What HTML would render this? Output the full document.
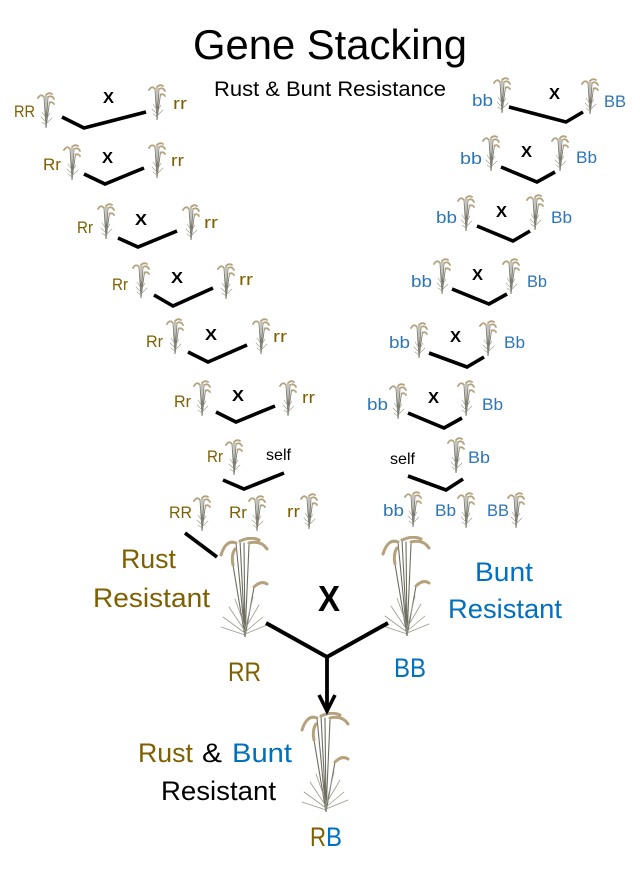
<!DOCTYPE html>
<html><head><meta charset="utf-8"><style>
html,body{margin:0;padding:0;background:#fff;}
svg{display:block;}
text{font-family:"Liberation Sans",sans-serif;}
.o{fill:#7F6000;font-size:17px;}
.b{fill:#2E75B6;font-size:17px;}
.x{fill:#000;font-size:16px;font-weight:bold;}
.ln{fill:none;stroke:#000;stroke-width:3.6;stroke-linejoin:miter;}
</style></head><body>
<svg width="640" height="875" viewBox="0 0 640 875" xmlns="http://www.w3.org/2000/svg" xmlns:xlink="http://www.w3.org/1999/xlink">
<defs>
<symbol id="sp" viewBox="0 0 18 36">
<g fill="none" stroke-linecap="round">
<path d="M9,36 L7,5 M9,36 L9,3 M9,36 L11,5 M9,36 L12.5,10" stroke="#7a7a6e" stroke-width="0.9"/>
<path d="M7,5 Q4,1 1,6 M9,3 Q12,0 15,2 M11,5 Q15,3 17,7 M12.5,11 Q15,9 17,12" stroke="#b3a37f" stroke-width="1.8"/>
<path d="M9,30 L4,25 M9,32 L15,26 M9,28 L13,21 M9,33 L5,30 M9,26 L5,20" stroke="#9a9a90" stroke-width="0.6"/>
</g>
</symbol>
<symbol id="bp" viewBox="0 0 50 100">
<g fill="none" stroke-linecap="round">
<path d="M26,100 L17,6 M26,100 L21,4 M26,100 L25,6 M26,100 L30,8 M26,100 L35,50 M26,100 L14,28" stroke="#6e6e60" stroke-width="1.1"/>
<path d="M17,6 Q7,2 2,18 M21,4 Q32,-1 40,3 M30,6 Q42,3 48,12 M35,50 Q42,43 48,47 M14,28 Q12,18 16,12" stroke="#b5a27c" stroke-width="3"/>
<path d="M26,96 L4,80 M26,94 L10,70 M26,95 L44,80 M26,97 L48,88 M26,98 L2,90 M26,92 L40,68 M26,90 L16,62 M26,93 L34,60" stroke="#9a9a8e" stroke-width="0.8"/>
</g>
</symbol>
</defs>

<!-- Title -->
<text x="193" y="59" font-size="42" fill="#000" textLength="274" lengthAdjust="spacingAndGlyphs">Gene Stacking</text>
<text x="214" y="96" font-size="21" fill="#000" textLength="232" lengthAdjust="spacingAndGlyphs">Rust &amp; Bunt Resistance</text>

<!-- small plants left -->
<use xlink:href="#sp" x="37" y="92" width="18" height="36"/>
<use xlink:href="#sp" x="148" y="84" width="18" height="36"/>
<use xlink:href="#sp" x="63" y="144" width="18" height="36"/>
<use xlink:href="#sp" x="148" y="142" width="18" height="36"/>
<use xlink:href="#sp" x="97" y="203" width="18" height="36"/>
<use xlink:href="#sp" x="182" y="204" width="18" height="36"/>
<use xlink:href="#sp" x="132" y="262" width="18" height="36"/>
<use xlink:href="#sp" x="217" y="263" width="18" height="36"/>
<use xlink:href="#sp" x="166" y="318" width="18" height="36"/>
<use xlink:href="#sp" x="252" y="318" width="18" height="36"/>
<use xlink:href="#sp" x="193" y="380" width="18" height="36"/>
<use xlink:href="#sp" x="279" y="380" width="18" height="36"/>
<use xlink:href="#sp" x="225" y="439" width="18" height="36"/>
<use xlink:href="#sp" x="193" y="495" width="18" height="36"/>
<use xlink:href="#sp" x="248" y="495" width="18" height="36"/>
<use xlink:href="#sp" x="300" y="493" width="18" height="36"/>

<!-- small plants right -->
<use xlink:href="#sp" x="493" y="77" width="18" height="36"/>
<use xlink:href="#sp" x="581" y="78" width="18" height="36"/>
<use xlink:href="#sp" x="482" y="135" width="18" height="36"/>
<use xlink:href="#sp" x="551" y="135" width="18" height="36"/>
<use xlink:href="#sp" x="457" y="195" width="18" height="36"/>
<use xlink:href="#sp" x="526" y="194" width="18" height="36"/>
<use xlink:href="#sp" x="433" y="258" width="18" height="36"/>
<use xlink:href="#sp" x="502" y="258" width="18" height="36"/>
<use xlink:href="#sp" x="410" y="322" width="18" height="36"/>
<use xlink:href="#sp" x="479" y="320" width="18" height="36"/>
<use xlink:href="#sp" x="389" y="383" width="18" height="36"/>
<use xlink:href="#sp" x="457" y="380" width="18" height="36"/>
<use xlink:href="#sp" x="447" y="437" width="18" height="36"/>
<use xlink:href="#sp" x="404" y="491" width="18" height="36"/>
<use xlink:href="#sp" x="457" y="492" width="18" height="36"/>
<use xlink:href="#sp" x="507" y="492" width="18" height="36"/>

<!-- big plants -->
<use xlink:href="#bp" x="219" y="537" width="50" height="100"/>
<use xlink:href="#bp" x="381" y="536" width="50" height="100"/>
<use xlink:href="#bp" x="300" y="712" width="50" height="100"/>

<!-- left labels -->
<text class="o" x="14" y="117" textLength="21" lengthAdjust="spacingAndGlyphs">RR</text>
<text class="o" x="173" y="109" textLength="14" lengthAdjust="spacingAndGlyphs">rr</text>
<text class="o" x="43" y="170" textLength="18" lengthAdjust="spacingAndGlyphs">Rr</text>
<text class="o" x="171" y="166" textLength="13" lengthAdjust="spacingAndGlyphs">rr</text>
<text class="o" x="77" y="233" textLength="16" lengthAdjust="spacingAndGlyphs">Rr</text>
<text class="o" x="204" y="228" textLength="14" lengthAdjust="spacingAndGlyphs">rr</text>
<text class="o" x="112" y="290" textLength="16" lengthAdjust="spacingAndGlyphs">Rr</text>
<text class="o" x="239" y="285" textLength="14" lengthAdjust="spacingAndGlyphs">rr</text>
<text class="o" x="146" y="347" textLength="17" lengthAdjust="spacingAndGlyphs">Rr</text>
<text class="o" x="273" y="342" textLength="14" lengthAdjust="spacingAndGlyphs">rr</text>
<text class="o" x="174" y="407" textLength="17" lengthAdjust="spacingAndGlyphs">Rr</text>
<text class="o" x="302" y="403" textLength="13" lengthAdjust="spacingAndGlyphs">rr</text>
<text class="o" x="207" y="462" textLength="16" lengthAdjust="spacingAndGlyphs">Rr</text>
<text class="o" x="169" y="518" textLength="23" lengthAdjust="spacingAndGlyphs">RR</text>
<text class="o" x="229" y="518" textLength="18" lengthAdjust="spacingAndGlyphs">Rr</text>
<text class="o" x="287" y="517" textLength="13" lengthAdjust="spacingAndGlyphs">rr</text>

<!-- right labels -->
<text class="b" x="472" y="106" textLength="21" lengthAdjust="spacingAndGlyphs">bb</text>
<text class="b" x="604" y="107" textLength="22" lengthAdjust="spacingAndGlyphs">BB</text>
<text class="b" x="460" y="164" textLength="22" lengthAdjust="spacingAndGlyphs">bb</text>
<text class="b" x="576" y="163" textLength="21" lengthAdjust="spacingAndGlyphs">Bb</text>
<text class="b" x="436" y="223" textLength="21" lengthAdjust="spacingAndGlyphs">bb</text>
<text class="b" x="551" y="223" textLength="21" lengthAdjust="spacingAndGlyphs">Bb</text>
<text class="b" x="411" y="287" textLength="21" lengthAdjust="spacingAndGlyphs">bb</text>
<text class="b" x="527" y="287" textLength="20" lengthAdjust="spacingAndGlyphs">Bb</text>
<text class="b" x="389" y="348" textLength="21" lengthAdjust="spacingAndGlyphs">bb</text>
<text class="b" x="504" y="348" textLength="21" lengthAdjust="spacingAndGlyphs">Bb</text>
<text class="b" x="367" y="410" textLength="21" lengthAdjust="spacingAndGlyphs">bb</text>
<text class="b" x="482" y="410" textLength="21" lengthAdjust="spacingAndGlyphs">Bb</text>
<text class="b" x="468" y="463" textLength="22" lengthAdjust="spacingAndGlyphs">Bb</text>
<text class="b" x="383" y="516" textLength="21" lengthAdjust="spacingAndGlyphs">bb</text>
<text class="b" x="435" y="516" textLength="21" lengthAdjust="spacingAndGlyphs">Bb</text>
<text class="b" x="487" y="516" textLength="22" lengthAdjust="spacingAndGlyphs">BB</text>

<!-- X marks -->
<text class="x" x="103" y="103" textLength="11" lengthAdjust="spacingAndGlyphs">X</text>
<text class="x" x="102" y="163" textLength="11" lengthAdjust="spacingAndGlyphs">X</text>
<text class="x" x="135" y="225" textLength="12" lengthAdjust="spacingAndGlyphs">X</text>
<text class="x" x="171" y="283" textLength="12" lengthAdjust="spacingAndGlyphs">X</text>
<text class="x" x="205" y="340" textLength="12" lengthAdjust="spacingAndGlyphs">X</text>
<text class="x" x="232" y="401" textLength="12" lengthAdjust="spacingAndGlyphs">X</text>
<text class="x" x="549" y="99" textLength="11" lengthAdjust="spacingAndGlyphs">X</text>
<text class="x" x="521" y="157" textLength="11" lengthAdjust="spacingAndGlyphs">X</text>
<text class="x" x="496" y="217" textLength="11" lengthAdjust="spacingAndGlyphs">X</text>
<text class="x" x="472" y="280" textLength="11" lengthAdjust="spacingAndGlyphs">X</text>
<text class="x" x="450" y="342" textLength="11" lengthAdjust="spacingAndGlyphs">X</text>
<text class="x" x="428" y="403" textLength="11" lengthAdjust="spacingAndGlyphs">X</text>

<text x="266" y="460" font-size="16" fill="#000" textLength="25" lengthAdjust="spacingAndGlyphs">self</text>
<text x="390" y="464" font-size="16" fill="#000" textLength="25" lengthAdjust="spacingAndGlyphs">self</text>

<!-- connectors -->
<polyline class="ln" points="62,117 84,128 146,112"/>
<polyline class="ln" points="84,174 105,184 144,168"/>
<polyline class="ln" points="118,238 138,247 177,231"/>
<polyline class="ln" points="154,295 173,306 213,288"/>
<polyline class="ln" points="188,352 208,362 247,345"/>
<polyline class="ln" points="216,412 236,422 275,406"/>
<polyline class="ln" points="223,480 244,489 284,473"/>
<line class="ln" x1="185" y1="533" x2="217" y2="557"/>

<polyline class="ln" points="509,107 566,122 583,112"/>
<polyline class="ln" points="501,167 537,182 555,172"/>
<polyline class="ln" points="477,226 513,241 530,231"/>
<polyline class="ln" points="452,289 489,304 507,294"/>
<polyline class="ln" points="429,353 467,367 484,357"/>
<polyline class="ln" points="408,413 444,428 462,418"/>
<polyline class="ln" points="408,476 446,490 463,479"/>

<polyline class="ln" style="stroke-width:4" points="266,623 327,657 388,623"/>
<line class="ln" style="stroke-width:3.8" x1="327" y1="657" x2="327" y2="710"/>
<polyline class="ln" style="stroke-width:3.6" points="319,695 327,711 335,695"/>

<!-- big labels -->
<text x="121" y="568" font-size="27" fill="#7F6000" textLength="55" lengthAdjust="spacingAndGlyphs">Rust</text>
<text x="93" y="607" font-size="27" fill="#7F6000" textLength="117" lengthAdjust="spacingAndGlyphs">Resistant</text>
<text x="475" y="581" font-size="27" fill="#0070C0" textLength="58" lengthAdjust="spacingAndGlyphs">Bunt</text>
<text x="448" y="618" font-size="27" fill="#0070C0" textLength="114" lengthAdjust="spacingAndGlyphs">Resistant</text>
<text x="318" y="611" font-size="36" font-weight="bold" fill="#000" textLength="22" lengthAdjust="spacingAndGlyphs">X</text>
<text x="228" y="681" font-size="27" fill="#7F6000" textLength="33" lengthAdjust="spacingAndGlyphs">RR</text>
<text x="394" y="677" font-size="27" fill="#0070C0" textLength="32" lengthAdjust="spacingAndGlyphs">BB</text>

<text x="138" y="762" font-size="27" fill="#7F6000" textLength="55" lengthAdjust="spacingAndGlyphs">Rust</text>
<text x="202" y="762" font-size="27" fill="#000" textLength="20" lengthAdjust="spacingAndGlyphs">&amp;</text>
<text x="232" y="762" font-size="27" fill="#0070C0" textLength="60" lengthAdjust="spacingAndGlyphs">Bunt</text>
<text x="161" y="800" font-size="27" fill="#000" textLength="115" lengthAdjust="spacingAndGlyphs">Resistant</text>
<text x="310" y="846" font-size="27" fill="#7F6000" textLength="16" lengthAdjust="spacingAndGlyphs">R</text>
<text x="326" y="846" font-size="27" fill="#0070C0" textLength="16" lengthAdjust="spacingAndGlyphs">B</text>
</svg>
</body></html>
